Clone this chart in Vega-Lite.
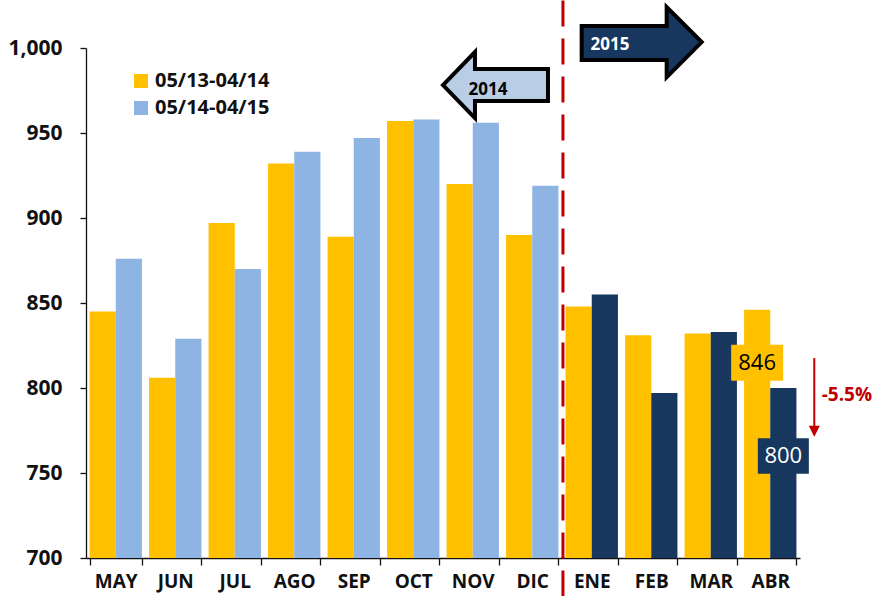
{
  "$schema": "https://vega.github.io/schema/vega-lite/v6.json",
  "width": 714,
  "height": 510,
  "autosize": {"type": "none"},
  "padding": {"left": 86, "top": 48, "right": 80, "bottom": 38},
  "background": "white",
  "config": {
    "view": {"stroke": null},
    "font": "Open Sans",
    "axis": {"labelFont": "Open Sans", "labelFontWeight": "bold", "labelColor": "#111111", "domainColor": "#111111", "tickColor": "#111111", "domainWidth": 1.3, "tickWidth": 1.3}
  },
  "datasets": {
    "bars": [
      {"month": "MAY", "series": "05/13-04/14", "grp": "05/13-04/14", "value": 845},
      {"month": "MAY", "series": "05/14-04/15", "grp": "05/14-04/15", "value": 876},
      {"month": "JUN", "series": "05/13-04/14", "grp": "05/13-04/14", "value": 806},
      {"month": "JUN", "series": "05/14-04/15", "grp": "05/14-04/15", "value": 829},
      {"month": "JUL", "series": "05/13-04/14", "grp": "05/13-04/14", "value": 897},
      {"month": "JUL", "series": "05/14-04/15", "grp": "05/14-04/15", "value": 870},
      {"month": "AGO", "series": "05/13-04/14", "grp": "05/13-04/14", "value": 932},
      {"month": "AGO", "series": "05/14-04/15", "grp": "05/14-04/15", "value": 939},
      {"month": "SEP", "series": "05/13-04/14", "grp": "05/13-04/14", "value": 889},
      {"month": "SEP", "series": "05/14-04/15", "grp": "05/14-04/15", "value": 947},
      {"month": "OCT", "series": "05/13-04/14", "grp": "05/13-04/14", "value": 957},
      {"month": "OCT", "series": "05/14-04/15", "grp": "05/14-04/15", "value": 958},
      {"month": "NOV", "series": "05/13-04/14", "grp": "05/13-04/14", "value": 920},
      {"month": "NOV", "series": "05/14-04/15", "grp": "05/14-04/15", "value": 956},
      {"month": "DIC", "series": "05/13-04/14", "grp": "05/13-04/14", "value": 890},
      {"month": "DIC", "series": "05/14-04/15", "grp": "05/14-04/15", "value": 919},
      {"month": "ENE", "series": "05/13-04/14", "grp": "05/13-04/14", "value": 848},
      {"month": "ENE", "series": "05/14-04/15", "grp": "2015", "value": 855},
      {"month": "FEB", "series": "05/13-04/14", "grp": "05/13-04/14", "value": 831},
      {"month": "FEB", "series": "05/14-04/15", "grp": "2015", "value": 797},
      {"month": "MAR", "series": "05/13-04/14", "grp": "05/13-04/14", "value": 832},
      {"month": "MAR", "series": "05/14-04/15", "grp": "2015", "value": 833},
      {"month": "ABR", "series": "05/13-04/14", "grp": "05/13-04/14", "value": 846},
      {"month": "ABR", "series": "05/14-04/15", "grp": "2015", "value": 800}
    ]
  },
  "layer": [
    {
      "data": {"name": "bars"},
      "mark": {"type": "bar"},
      "encoding": {
        "x": {
          "field": "month", "type": "nominal",
          "sort": ["MAY", "JUN", "JUL", "AGO", "SEP", "OCT", "NOV", "DIC", "ENE", "FEB", "MAR", "ABR"],
          "scale": {"domain": ["MAY", "JUN", "JUL", "AGO", "SEP", "OCT", "NOV", "DIC", "ENE", "FEB", "MAR", "ABR"], "paddingInner": 0.12, "paddingOuter": 0.06},
          "axis": {"title": null, "labelAngle": 0, "labelFontSize": 19, "tickBand": "extent", "tickSize": 7, "labelPadding": 7}
        },
        "xOffset": {"field": "series", "type": "nominal", "scale": {"paddingInner": 0, "paddingOuter": 0}},
        "y": {
          "field": "value", "type": "quantitative",
          "scale": {"domain": [700, 1000], "zero": false, "nice": false},
          "axis": {"title": null, "values": [700, 750, 800, 850, 900, 950, 1000], "format": ",.0f", "grid": false, "labelFontSize": 21, "tickSize": 6, "labelPadding": 18}
        },
        "y2": {"datum": 700},
        "color": {
          "field": "grp", "type": "nominal",
          "scale": {"domain": ["05/13-04/14", "05/14-04/15", "2015"], "range": ["#FFC000", "#8EB4E3", "#17375E"]},
          "legend": {
            "title": null, "values": ["05/13-04/14", "05/14-04/15"],
            "orient": "none", "legendX": 45, "legendY": 23,
            "symbolType": "square", "symbolSize": 196, "symbolStrokeWidth": 0,
            "labelFont": "Open Sans", "labelFontWeight": "bold", "labelFontSize": 20, "labelColor": "#111111",
            "rowPadding": 7, "labelOffset": 4
          }
        }
      }
    },
    {
      "data": {"values": [{"month": "ENE"}]},
      "mark": {"type": "rule", "color": "#C00000", "strokeWidth": 3, "strokeDash": [26, 12], "clip": false},
      "encoding": {
        "x": {"field": "month", "type": "nominal", "bandPosition": -0.05},
        "y": {"datum": 1028, "type": "quantitative"},
        "y2": {"datum": 677}
      }
    },
    {
      "data": {"values": [{"month": "NOV", "v": 978.2}]},
      "mark": {"type": "point", "filled": true, "fill": "#B9CDE5", "stroke": "#000000", "strokeWidth": 4, "opacity": 1, "size": 10000,
        "shape": "M -1.05 0 L -0.41 -0.66 L -0.41 -0.32 L 1.05 -0.32 L 1.05 0.32 L -0.41 0.32 L -0.41 0.66 Z", "clip": false},
      "encoding": {
        "x": {"field": "month", "type": "nominal", "bandPosition": 0.934},
        "y": {"field": "v", "type": "quantitative"}
      }
    },
    {
      "data": {"values": [{"month": "NOV", "v": 975.5, "t": "2014"}]},
      "mark": {"type": "text", "fontSize": 17, "fontWeight": "bold", "color": "#000000", "align": "center", "baseline": "middle"},
      "encoding": {
        "x": {"field": "month", "type": "nominal", "bandPosition": 0.79},
        "y": {"field": "v", "type": "quantitative"},
        "text": {"field": "t"}
      }
    },
    {
      "data": {"values": [{"month": "FEB", "v": 1003.5}]},
      "mark": {"type": "point", "filled": true, "fill": "#17375E", "stroke": "#000000", "strokeWidth": 4, "opacity": 1, "size": 10000,
        "shape": "M -1.2 -0.32 L 0.5 -0.32 L 0.5 -0.7 L 1.2 0 L 0.5 0.7 L 0.5 0.36 L -1.2 0.36 Z", "clip": false},
      "encoding": {
        "x": {"field": "month", "type": "nominal", "bandPosition": 0.317},
        "y": {"field": "v", "type": "quantitative"}
      }
    },
    {
      "data": {"values": [{"month": "ENE", "v": 1001.5, "t": "2015"}]},
      "mark": {"type": "text", "fontSize": 17, "fontWeight": "bold", "color": "#FFFFFF", "align": "center", "baseline": "middle"},
      "encoding": {
        "x": {"field": "month", "type": "nominal", "bandPosition": 0.848},
        "y": {"field": "v", "type": "quantitative"},
        "text": {"field": "t"}
      }
    },
    {
      "data": {"values": [{"month": "ABR", "series": "05/13-04/14", "value": 846}]},
      "mark": {"type": "point", "filled": true, "fill": "#FFC000", "opacity": 1, "size": 2704, "shape": "M -1 -0.69 L 1 -0.69 L 1 0.69 L -1 0.69 Z", "yOffset": 53},
      "encoding": {
        "x": {"field": "month", "type": "nominal"},
        "xOffset": {"field": "series", "type": "nominal"},
        "y": {"field": "value", "type": "quantitative"}
      }
    },
    {
      "data": {"values": [{"month": "ABR", "series": "05/13-04/14", "value": 846}]},
      "mark": {"type": "text", "fontSize": 22, "fontWeight": "normal", "color": "#000000", "align": "center", "baseline": "middle", "dy": 53},
      "encoding": {
        "x": {"field": "month", "type": "nominal"},
        "xOffset": {"field": "series", "type": "nominal"},
        "y": {"field": "value", "type": "quantitative"},
        "text": {"field": "value"}
      }
    },
    {
      "data": {"values": [{"month": "ABR", "series": "05/14-04/15", "value": 800}]},
      "mark": {"type": "point", "filled": true, "fill": "#17375E", "opacity": 1, "size": 2601, "shape": "M -1 -0.7 L 1 -0.7 L 1 0.7 L -1 0.7 Z", "yOffset": 68, "xOffset": 1},
      "encoding": {
        "x": {"field": "month", "type": "nominal"},
        "xOffset": {"field": "series", "type": "nominal"},
        "y": {"field": "value", "type": "quantitative"}
      }
    },
    {
      "data": {"values": [{"month": "ABR", "series": "05/14-04/15", "value": 800}]},
      "mark": {"type": "text", "fontSize": 22, "fontWeight": "normal", "color": "#FFFFFF", "align": "center", "baseline": "middle", "dy": 68},
      "encoding": {
        "x": {"field": "month", "type": "nominal"},
        "xOffset": {"field": "series", "type": "nominal"},
        "y": {"field": "value", "type": "quantitative"},
        "text": {"field": "value"}
      }
    },
    {
      "data": {"values": [{"month": "ABR", "a": 817.6, "b": 777}]},
      "mark": {"type": "rule", "color": "#C00000", "strokeWidth": 2, "clip": false},
      "encoding": {
        "x": {"field": "month", "type": "nominal", "bandPosition": 1.341},
        "y": {"field": "a", "type": "quantitative"},
        "y2": {"field": "b"}
      }
    },
    {
      "data": {"values": [{"month": "ABR", "v": 774.6}]},
      "mark": {"type": "point", "filled": true, "fill": "#C00000", "opacity": 1, "size": 121, "shape": "M -1 -1 L 1 -1 L 0 1 Z", "clip": false},
      "encoding": {
        "x": {"field": "month", "type": "nominal", "bandPosition": 1.341},
        "y": {"field": "v", "type": "quantitative"}
      }
    },
    {
      "data": {"values": [{"month": "ABR", "v": 796, "t": "-5.5%"}]},
      "mark": {"type": "text", "fontSize": 19, "fontWeight": "bold", "color": "#C00000", "align": "left", "baseline": "middle", "clip": false},
      "encoding": {
        "x": {"field": "month", "type": "nominal", "bandPosition": 1.482},
        "y": {"field": "v", "type": "quantitative"},
        "text": {"field": "t"}
      }
    }
  ]
}
